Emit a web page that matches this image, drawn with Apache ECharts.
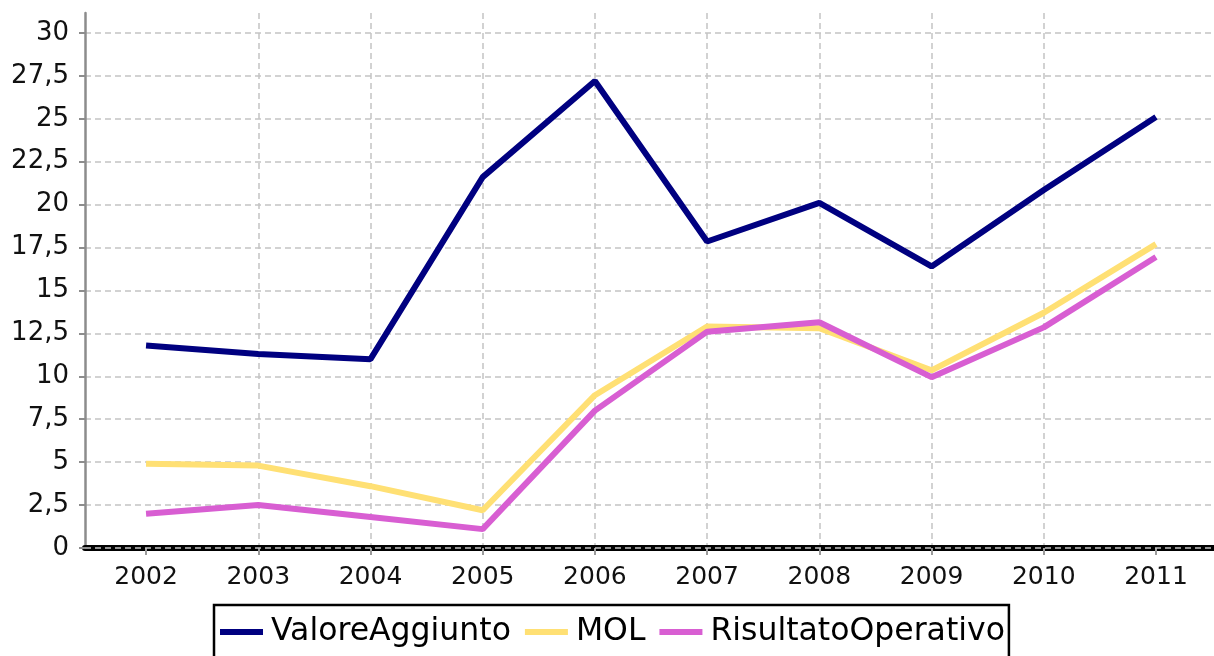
<!DOCTYPE html>
<html>
<head>
<meta charset="utf-8">
<script src="https://cdn.jsdelivr.net/npm/echarts@6/dist/echarts.min.js"></script>
<style>
  html, body { margin: 0; padding: 0; background: #fff; }
  #chart { width: 1214px; height: 656px; }
</style>
</head>
<body>
<div id="chart"></div>
<script>
// dati
const years = [2002, 2003, 2004, 2005, 2006, 2007, 2008, 2009, 2010, 2011];
const valoreAggiunto = [11.8, 11.3, 11.0, 21.6, 27.2, 17.85, 20.1, 16.4, 20.85, 25.1];
const mol = [4.9, 4.8, 3.6, 2.2, 8.9, 12.9, 12.8, 10.35, 13.7, 17.7];
const risultatoOperativo = [2.0, 2.5, 1.8, 1.1, 8.0, 12.6, 13.15, 9.95, 12.85, 16.95];
const yTicks = [0, 2.5, 5, 7.5, 10, 12.5, 15, 17.5, 20, 22.5, 25, 27.5, 30];

const chart = echarts.init(document.getElementById('chart'));
const font = 'DejaVu Sans';
const gridDash = { color: '#c4c4c4', width: 1.5, type: [6, 4] };

function lineSeries(name, data, color) {
  return {
    name: name,
    type: 'line',
    data: years.map((y, i) => [y, data[i]]),
    symbol: 'none',
    showSymbol: false,
    lineStyle: { width: 6, color: color },
    itemStyle: { color: color },
    z: 3,
  };
}

const series = [
  lineSeries('ValoreAggiunto', valoreAggiunto, '#000080'),
  lineSeries('MOL', mol, '#ffe074'),
  lineSeries('RisultatoOperativo', risultatoOperativo, '#d85ed2'),
];
// linea tratteggiata sopra l'asse dello zero
series[0].markLine = {
  silent: true,
  symbol: 'none',
  label: { show: false },
  lineStyle: gridDash,
  data: [{ yAxis: 0 }],
  z: 10,
};

const option = {
  animation: false,
  backgroundColor: '#fff',
  grid: { left: 85, right: 0, top: 13, bottom: 108 },
  xAxis: {
    type: 'value',
    min: 2001.456,
    max: 2011.517,
    axisLine: { show: true, onZero: false, lineStyle: { color: '#000', width: 6 } },
    axisTick: { show: true, length: 7, customValues: years, lineStyle: { color: '#999', width: 2 } },
    axisLabel: {
      color: '#111',
      fontFamily: font,
      fontSize: 25,
      margin: 17,
      customValues: years,
      formatter: (v) => String(v),
    },
    splitLine: { show: true, showMinLine: false, showMaxLine: false, lineStyle: gridDash },
  },
  yAxis: {
    type: 'value',
    min: 0,
    max: 31.16,
    axisLine: { show: true, onZero: false, lineStyle: { color: '#8c8c8c', width: 2.5 } },
    axisTick: { show: true, length: 6, customValues: yTicks, lineStyle: { color: '#8c8c8c', width: 2 } },
    axisLabel: {
      color: '#111',
      fontFamily: font,
      fontSize: 26,
      margin: 16,
      customValues: yTicks,
      formatter: (v) => String(v).replace('.', ','),
    },
    splitLine: { show: true, showMinLine: false, lineStyle: gridDash },
  },
  legend: {
    left: 214,
    top: 605,
    padding: [11, 4, 20, 6],
    borderColor: '#000',
    borderWidth: 2.5,
    icon: 'rect',
    itemWidth: 43,
    itemHeight: 6,
    itemGap: 14,
    textStyle: { color: '#000', fontFamily: font, fontSize: 31.5, padding: [0, 0, 0, 3] },
    data: ['ValoreAggiunto', 'MOL', 'RisultatoOperativo'],
  },
  series: series,
};
chart.setOption(option);
</script>
</body>
</html>
